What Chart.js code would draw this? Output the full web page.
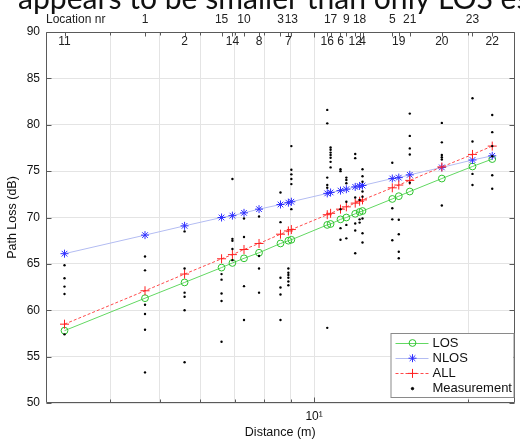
<!DOCTYPE html>
<html>
<head>
<meta charset="utf-8">
<script src="https://cdn.jsdelivr.net/npm/chart.js@4.4.0/dist/chart.umd.min.js"></script>
<style>
  html, body { margin: 0; padding: 0; background: #fff; }
  #cadre { position: relative; width: 520px; height: 442px; overflow: hidden; }
</style>
</head>
<body>
<div id="cadre"><canvas id="graphique" width="520" height="442"></canvas></div>
<script>
// Ligne de texte de la diapo, coupee en haut de l image
const texteDiapo = 'appears to be smaller than only LOS est';

// Lieux de mesure, tries par distance (m)
const locationNr   = [11, 1, 2, 15, 14, 10, 8, 3, 7, 13, 16, 17, 6, 9, 12, 18, 4, 5, 19, 21, 20, 23, 22];
const locationDist = [3.26, 4.68, 5.59, 6.60, 6.93, 7.30, 7.81, 8.60, 8.91, 9.03, 10.61, 10.77,
                      11.26, 11.56, 12.03, 12.27, 12.43, 14.21, 14.63, 15.37, 17.75, 20.37, 22.26];

// Modeles ajustes (dB) a chaque lieu
const perteLOS  = [57.8, 61.3, 63.0, 64.6, 65.1, 65.6, 66.2, 67.2, 67.5, 67.6, 69.2, 69.3,
                   69.8, 70.0, 70.4, 70.6, 70.7, 72.0, 72.3, 72.8, 74.2, 75.5, 76.3];
const perteNLOS = [66.1, 68.1, 69.1, 70.0, 70.2, 70.5, 70.9, 71.4, 71.6, 71.7, 72.6, 72.7,
                   72.9, 73.05, 73.3, 73.4, 73.45, 74.2, 74.3, 74.6, 75.4, 76.2, 76.65];
const perteALL  = [58.5, 62.1, 63.9, 65.55, 66.0, 66.55, 67.2, 68.2, 68.55, 68.7, 70.3, 70.45,
                   70.9, 71.15, 71.55, 71.75, 71.9, 73.2, 73.5, 74.0, 75.45, 76.8, 77.7];

// Mesures brutes (dB), une liste par lieu (meme ordre que locationDist)
const mesuresParLieu = [
    [64.85, 63.45, 62.55, 61.75, 57.4],
    [65.8, 64.3, 60.6, 59.6, 57.9, 53.3],
    [68.5, 64.5, 61.9, 61.45, 60.0, 54.4],
    [63.9, 63.3, 61.8, 61.0, 56.6],
    [74.15, 67.7, 67.5, 66.6, 65.4],
    [69.9, 67.9, 62.6, 58.95],
    [70.1, 65.85, 64.5, 61.9],
    [72.7, 69.5, 63.5, 62.45, 61.7, 58.95],
    [64.5, 64.05, 63.8, 63.5, 63.1, 62.7],
    [77.7, 75.15, 74.65, 74.15, 73.6, 70.9],
    [81.6, 80.15, 74.3, 73.5, 73.2, 58.1],
    [77.55, 77.3, 77.0, 76.75, 76.45, 76.0, 75.4],
    [75.2, 75.0, 70.9, 68.85, 67.6],
    [74.3, 74.05, 73.7, 71.7, 69.2, 67.75],
    [76.85, 76.4, 72.15, 69.35, 68.6, 66.15],
    [71.9, 69.8, 69.45],
    [75.2, 74.45, 73.85, 72.8, 72.25, 69.9, 68.3, 67.3],
    [75.9, 71.0, 69.8, 67.55],
    [69.75, 68.2, 66.3, 65.6],
    [81.2, 78.8, 77.45, 76.8, 73.75],
    [80.2, 78.1, 76.75, 76.5, 76.25, 71.3],
    [82.85, 78.2, 74.7, 73.5],
    [81.05, 79.2, 77.7, 76.6, 74.55, 73.1]
];

// Graduations
const grilleX = [4, 5, 6, 7, 8, 9, 10, 20];
const ticksY  = [50, 55, 60, 65, 70, 75, 80, 85, 90];
const distMin = 3, distMax = 24.6;

const police = '"Liberation Sans", Arial, sans-serif';

function serie(valeurs) {
    return locationDist.map((d, i) => ({ x: d, y: valeurs[i] }));
}

const pointsMesure = [];
mesuresParLieu.forEach((liste, i) => {
    liste.forEach(v => pointsMesure.push({ x: locationDist[i], y: v }));
});

// Numeros de lieu : rangs impairs au-dessus du cadre, rangs pairs dedans
const lieuxHaut = locationNr.filter((n, i) => i % 2 === 1);
const distHaut  = locationDist.filter((d, i) => i % 2 === 1);

function point(ctx, style, r, x, y) {
    if (Chart.helpers && Chart.helpers.drawPoint) {
        Chart.helpers.drawPoint(ctx, { pointStyle: style, radius: r, borderWidth: 1, rotation: 0 }, x, y);
        return;
    }
    ctx.beginPath();
    ctx.arc(x, y, r, 0, Math.PI * 2);
    ctx.fill();
    ctx.stroke();
}

const decor = {
    id: 'decor',
    afterDraw(chart) {
        const ctx = chart.ctx;
        const a = chart.chartArea;
        const sx = chart.scales.x, sy = chart.scales.y;
        const L = Math.round(a.left) + 0.5, R = Math.round(a.right) - 0.5;
        const T = Math.round(a.top) + 0.5,  B = Math.round(a.bottom) - 0.5;
        ctx.save();

        // cadre et graduations vers l interieur (style Matlab)
        ctx.strokeStyle = '#5a5a5a';
        ctx.lineWidth = 1;
        ctx.beginPath();
        ctx.rect(L, T, R - L, B - T);
        grilleX.forEach(v => {
            const x = Math.round(sx.getPixelForValue(v)) + 0.5;
            const l = v === 10 ? 5 : 3;
            ctx.moveTo(x, B); ctx.lineTo(x, B - l);
            ctx.moveTo(x, T); ctx.lineTo(x, T + l);
        });
        ticksY.forEach(v => {
            const y = Math.round(sy.getPixelForValue(v)) + 0.5;
            ctx.moveTo(L, y); ctx.lineTo(L + 5, y);
            ctx.moveTo(R, y); ctx.lineTo(R - 5, y);
        });
        locationDist.forEach(d => {
            const x = Math.round(sx.getPixelForValue(d)) + 0.5;
            ctx.moveTo(x, T); ctx.lineTo(x, T + 4);
        });
        ctx.stroke();

        // numeros de lieu a l interieur du cadre
        ctx.fillStyle = '#222';
        ctx.font = '12px ' + police;
        ctx.textAlign = 'center';
        ctx.textBaseline = 'middle';
        locationNr.forEach((n, i) => {
            if (i % 2 === 0) ctx.fillText(String(n), sx.getPixelForValue(locationDist[i]), a.top + 10);
        });
        ctx.textAlign = 'left';
        ctx.fillText('Location nr', a.left, 19.5);

        // texte de la diapo coupe en haut
        ctx.font = '28px Lato';
        const w = ctx.measureText('appears to be smaller than only LOS').width;
        ctx.font = (28 * 475 / w).toFixed(2) + 'px Lato';
        ctx.fillStyle = '#111';
        ctx.textBaseline = 'alphabetic';
        ctx.fillText(texteDiapo, 18, 9);

        // legende
        const lx = a.right - 124, ly = a.bottom - 70, lw = 123, lh = 64;
        ctx.fillStyle = '#fff';
        ctx.fillRect(lx, ly, lw, lh);
        ctx.strokeStyle = '#8a8a8a';
        ctx.strokeRect(lx + 0.5, ly + 0.5, lw, lh);
        ctx.font = '13px ' + police;
        ctx.textBaseline = 'middle';
        chart.data.datasets.forEach((ds, i) => {
            const y = ly + 10 + i * 15.2;
            if (ds.showLine !== false) {
                ctx.strokeStyle = ds.borderColor;
                ctx.setLineDash(ds.borderDash || []);
                ctx.beginPath();
                ctx.moveTo(lx + 5, Math.round(y) + 0.5);
                ctx.lineTo(lx + 38, Math.round(y) + 0.5);
                ctx.stroke();
                ctx.setLineDash([]);
            }
            ctx.strokeStyle = ds.pointBorderColor;
            ctx.fillStyle = ds.pointBackgroundColor;
            point(ctx, ds.pointStyle, ds.pointRadius, lx + 22, y);
            ctx.fillStyle = '#111';
            ctx.fillText(ds.label, lx + 42, y);
        });
        ctx.restore();
    }
};

new Chart(document.getElementById('graphique'), {
    type: 'line',
    data: {
        datasets: [
            {
                label: 'LOS', data: serie(perteLOS),
                borderColor: '#62d862', borderWidth: 1,
                pointStyle: 'circle', pointRadius: 3.4, pointBorderWidth: 1,
                pointBorderColor: '#2ec42e', pointBackgroundColor: 'rgba(0,0,0,0)',
                order: 3
            },
            {
                label: 'NLOS', data: serie(perteNLOS),
                borderColor: '#b3bcf2', borderWidth: 1,
                pointStyle: 'star', pointRadius: 4, pointBorderWidth: 1,
                pointBorderColor: '#2f2fff', pointBackgroundColor: 'rgba(0,0,0,0)',
                order: 2
            },
            {
                label: 'ALL', data: serie(perteALL),
                borderColor: '#ff4a4a', borderWidth: 1, borderDash: [3, 2],
                pointStyle: 'cross', pointRadius: 4.5, pointBorderWidth: 1,
                pointBorderColor: '#ff2020', pointBackgroundColor: 'rgba(0,0,0,0)',
                order: 1
            },
            {
                label: 'Measurement', data: pointsMesure, showLine: false,
                pointStyle: 'circle', pointRadius: 1.2, pointBorderWidth: 0,
                pointBorderColor: '#000', pointBackgroundColor: '#000',
                order: 0
            }
        ]
    },
    options: {
        responsive: false,
        animation: false,
        events: [],
        layout: { padding: { top: 0, right: 1, bottom: 0, left: 0 } },
        plugins: { legend: { display: false }, tooltip: { enabled: false } },
        scales: {
            x: {
                type: 'logarithmic', position: 'bottom',
                min: distMin, max: distMax, bounds: 'data',
                afterBuildTicks: s => { s.ticks = grilleX.map(v => ({ value: v })); },
                afterFit: s => { s.height = 39; },
                grid: { color: '#e4e4e4', drawTicks: false },
                border: { display: false },
                ticks: {
                    autoSkip: false, maxRotation: 0, padding: 6,
                    color: '#111', font: { family: police, size: 12 },
                    callback: v => (v === 10 ? '10¹' : '')
                },
                title: {
                    display: true, text: 'Distance (m)', color: '#111',
                    font: { family: police, size: 12.5 }, padding: { top: 0, bottom: 2 }
                }
            },
            x2: {
                type: 'logarithmic', position: 'top',
                min: distMin, max: distMax, bounds: 'data',
                afterBuildTicks: s => { s.ticks = distHaut.map(v => ({ value: v })); },
                afterFit: s => { s.height = 32; },
                grid: { display: false, drawTicks: false },
                border: { display: false },
                ticks: {
                    autoSkip: false, maxRotation: 0, padding: 5,
                    color: '#222', font: { family: police, size: 12 },
                    callback: (v, i) => String(lieuxHaut[i])
                }
            },
            y: {
                type: 'linear', min: 50, max: 90,
                afterBuildTicks: s => { s.ticks = ticksY.map(v => ({ value: v })); },
                afterFit: s => { s.width = 46; },
                grid: { color: '#e4e4e4', drawTicks: false },
                border: { display: false },
                ticks: { padding: 6, color: '#111', font: { family: police, size: 12 } },
                title: {
                    display: true, text: 'Path Loss (dB)', color: '#111',
                    font: { family: police, size: 12.5 }, padding: { top: 5, bottom: 0 }
                }
            }
        }
    },
    plugins: [decor]
});
</script>
</body>
</html>
